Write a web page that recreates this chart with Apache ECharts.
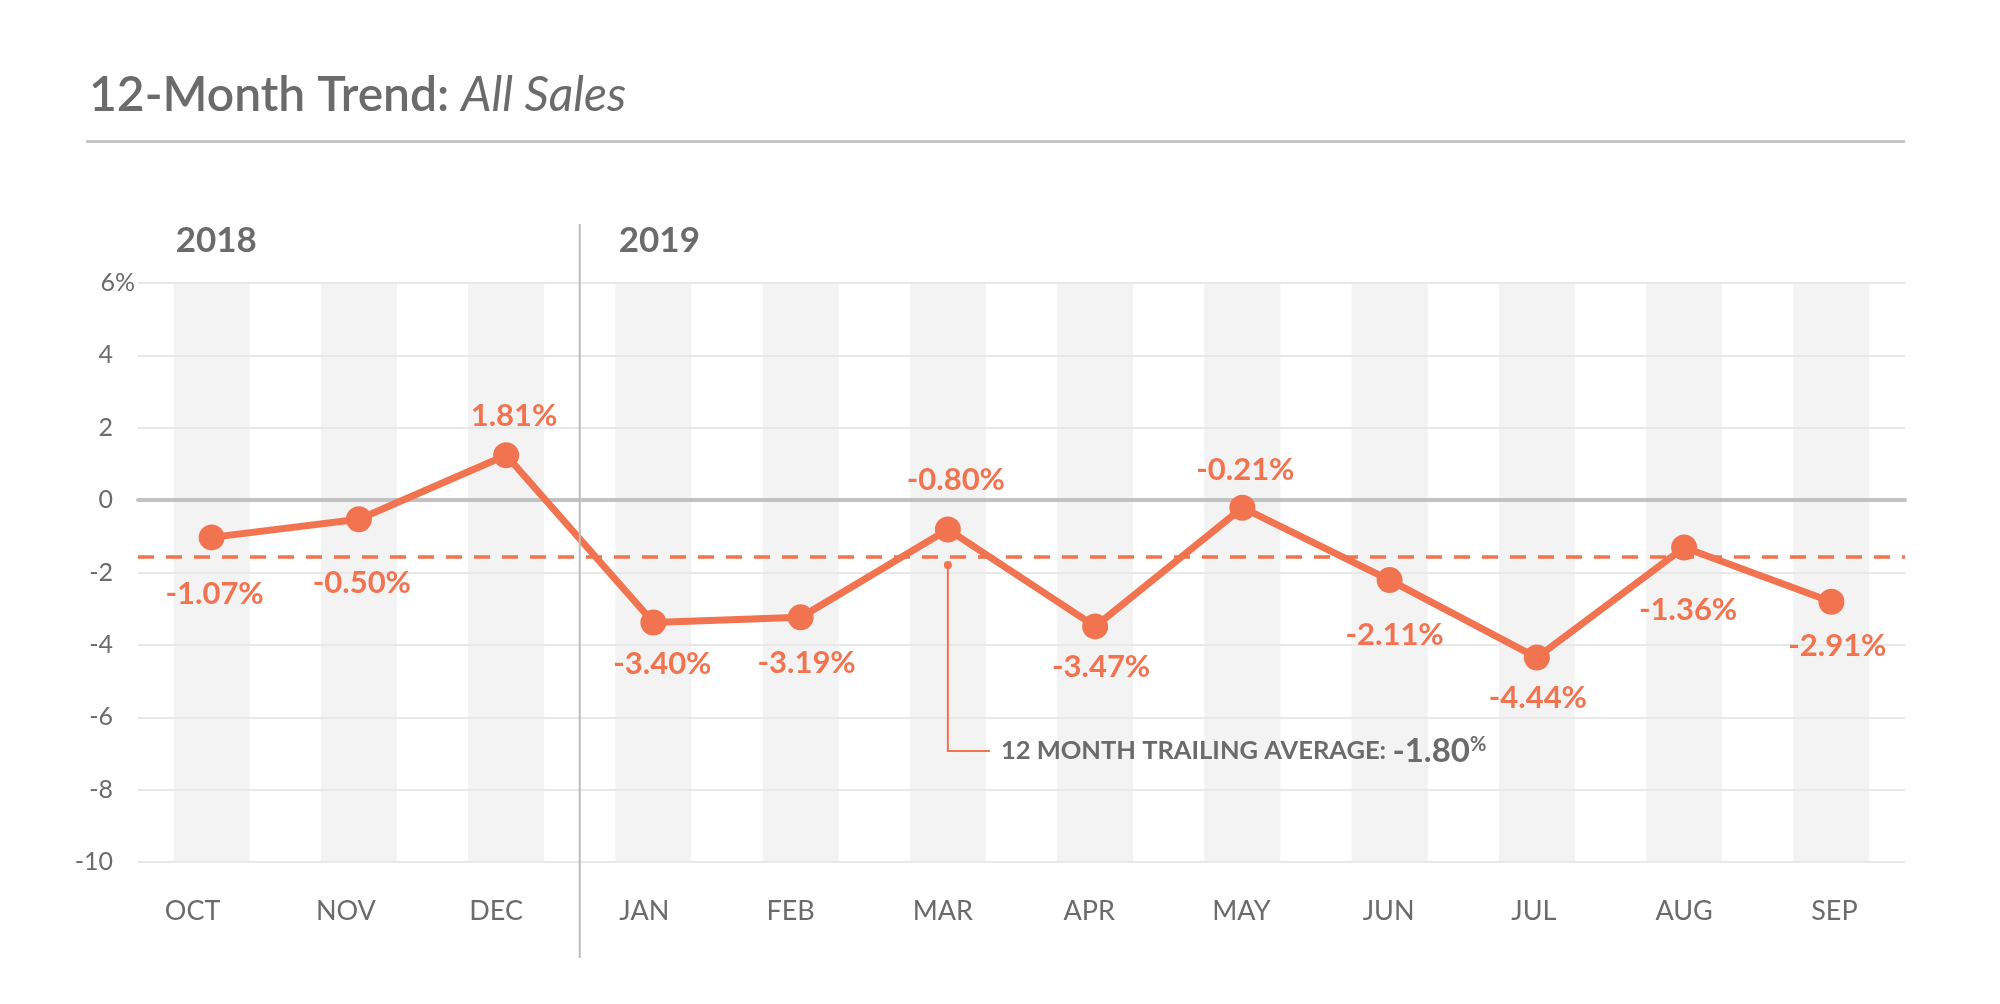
<!DOCTYPE html>
<html>
<head>
<meta charset="utf-8">
<script src="https://cdn.jsdelivr.net/npm/echarts@6/dist/echarts.min.js"></script>
<style>
html,body{margin:0;padding:0;background:#fff;}
#chart{width:2000px;height:1004px;}
</style>
</head>
<body>
<div id="chart"></div>
<script>
// ---------- data ----------
const months = ['OCT','NOV','DEC','JAN','FEB','MAR','APR','MAY','JUN','JUL','AUG','SEP'];
const values = [-1.03, -0.53, 1.24, -3.38, -3.24, -0.81, -3.49, -0.21, -2.21, -4.35, -1.31, -2.81];
const valueLabels = ['-1.07%','-0.50%','1.81%','-3.40%','-3.19%','-0.80%','-3.47%','-0.21%','-2.11%','-4.44%','-1.36%','-2.91%'];
const trailingAverage = -1.57;
const trailingAverageLabel = '-1.80';
const years = ['2018', '2019'];
const yMin = -10, yMax = 6, yStep = 2;

// ---------- styling / layout ----------
const ORANGE = '#F1734F';
const GRAY_TEXT = '#6b6b6b';
const FONT = 'Lato, "Open Sans", sans-serif';
// label offsets [dx, dy] per point
const labelOffsets = [[3,57],[3,64],[8,-39],[9,42],[6,46],[8,-49],[6,41],[3,-38],[5,55],[1,40],[4,62],[6,44]];
// horizontal shift of each month label (px, negative = left)
const monthShift = [-19,-13,-10,-9,-10,-5,-6,-1,-1,-3,0,3];

const monthRich = {};
monthShift.forEach((s, i) => {
  monthRich['m' + i] = {
    color: GRAY_TEXT, fontFamily: FONT, fontSize: 27,
    padding: s < 0 ? [0, -2 * s, 0, 0] : [0, 0, 0, 2 * s]
  };
});

// width of the '%' glyph used on the top y label
const mctx = document.createElement('canvas').getContext('2d');
mctx.font = '25px ' + FONT;
const pctW = Math.ceil(mctx.measureText('%').width) + 1;

const chart = echarts.init(document.getElementById('chart'), null, {renderer:'canvas'});

const lineData = values.map((v, i) => ({
  value: v,
  label: { formatter: valueLabels[i], offset: labelOffsets[i] }
}));

const option = {
  animation: false,
  backgroundColor: '#fff',
  title: {
    text: '{a|12-Month Trend: }{b|All Sales}',
    left: 84, top: 67,
    textStyle: {
      rich: {
        a: { fontFamily: FONT, fontSize: 48, fontWeight: 600, color: GRAY_TEXT },
        b: { fontFamily: FONT, fontSize: 48, fontWeight: 'normal', fontStyle: 'italic', color: GRAY_TEXT }
      }
    }
  },
  grid: { left: 138, right: 95, top: 283, bottom: 142, containLabel: false },
  xAxis: {
    type: 'category',
    data: months,
    boundaryGap: true,
    axisLine: { show: true, lineStyle: { color: '#c2c2c2', width: 4 } },
    axisTick: { show: false },
    axisLabel: {
      interval: 0,
      hideOverlap: false,
      color: GRAY_TEXT, fontFamily: FONT, fontSize: 27, margin: 36,
      formatter: (v, i) => '{m' + i + '|' + v + '}',
      rich: monthRich
    },
    splitLine: { show: false },
    z: 3
  },
  yAxis: [{
    type: 'value',
    min: yMin, max: yMax, interval: yStep,
    axisLine: { show: false },
    axisTick: { show: false },
    axisLabel: {
      color: GRAY_TEXT, fontFamily: FONT, fontSize: 25, margin: 3,
      formatter: v => v === yMax ? '{n|' + v + '}{p|%}' : '{n|' + v + '}{s| }',
      rich: {
        n: { color: GRAY_TEXT, fontFamily: FONT, fontSize: 25 },
        p: { color: GRAY_TEXT, fontFamily: FONT, fontSize: 25 },
        s: { color: GRAY_TEXT, fontFamily: FONT, fontSize: 25, width: pctW }
      }
    },
    splitLine: { show: true, lineStyle: { color: '#e8e8e8', width: 2 } },
    z: 3
  }, {
    type: 'value', min: 0, max: 1, show: false,
    splitLine: { show: false }
  }],
  series: [
    {
      type: 'bar',
      yAxisIndex: 1,
      data: months.map(() => 1),
      barWidth: 76,
      itemStyle: { color: '#f3f3f3' },
      silent: true,
      z: 1
    },
    {
      type: 'line',
      data: [],
      z: 4,
      silent: true,
      markLine: {
        silent: true,
        symbol: 'none',
        label: { show: false },
        data: [
          { yAxis: 0, lineStyle: { color: '#c2c2c2', width: 3, type: 'solid' } },
          { yAxis: trailingAverage, lineStyle: { color: ORANGE, width: 3.5, type: [16, 12] } }
        ]
      }
    },
    {
      type: 'line',
      data: lineData,
      z: 6,
      symbol: 'circle',
      symbolSize: 26,
      lineStyle: { color: ORANGE, width: 7 },
      itemStyle: { color: ORANGE },
      label: {
        show: true,
        position: 'inside',
        color: ORANGE,
        fontFamily: FONT,
        fontSize: 31,
        fontWeight: 'bold'
      }
    }
  ]
};
chart.setOption(option);

// ---------- decorations positioned from the axes ----------
const pDec = chart.convertToPixel({ gridIndex: 0 }, [2, 0]);
const pJan = chart.convertToPixel({ gridIndex: 0 }, [3, 0]);
const dividerX = (pDec[0] + pJan[0]) / 2;
const pMarAvg = chart.convertToPixel({ gridIndex: 0 }, [5, trailingAverage]);
const pOct = chart.convertToPixel({ gridIndex: 0 }, [0, 0]);
const calloutY = 751;

chart.setOption({
  graphic: [
    { type: 'line', shape: { x1: 86, y1: 141.5, x2: 1905, y2: 141.5 }, style: { stroke: '#c6c6c6', lineWidth: 3 }, silent: true },
    { type: 'line', shape: { x1: dividerX, y1: 224, x2: dividerX, y2: 958 }, style: { stroke: '#bdbdbd', lineWidth: 2 }, silent: true, z: 10 },
    { type: 'text', x: pOct[0] - 36, y: 241, style: { text: years[0], font: 'bold 35px ' + FONT, fill: GRAY_TEXT, textVerticalAlign: 'middle' }, silent: true },
    { type: 'text', x: dividerX + 39, y: 241, style: { text: years[1], font: 'bold 35px ' + FONT, fill: GRAY_TEXT, textVerticalAlign: 'middle' }, silent: true },
    { type: 'circle', shape: { cx: pMarAvg[0], cy: pMarAvg[1] + 8, r: 4 }, style: { fill: ORANGE }, silent: true, z: 10 },
    { type: 'polyline', shape: { points: [[pMarAvg[0], pMarAvg[1] + 8], [pMarAvg[0], calloutY], [pMarAvg[0] + 42, calloutY]] }, style: { stroke: ORANGE, lineWidth: 2, fill: null }, silent: true, z: 10 },
    { type: 'text', x: pMarAvg[0] + 53, y: calloutY, z: 10, silent: true,
      style: {
        text: '{a|12 MONTH TRAILING AVERAGE: }{b|' + trailingAverageLabel + '}{c|%}',
        textVerticalAlign: 'middle',
        rich: {
          a: { fontFamily: FONT, fontSize: 25.5, fontWeight: 'bold', fill: GRAY_TEXT, verticalAlign: 'middle' },
          b: { fontFamily: FONT, fontSize: 33, fontWeight: 'bold', fill: GRAY_TEXT, verticalAlign: 'middle' },
          c: { fontFamily: FONT, fontSize: 20, fontWeight: 'bold', fill: GRAY_TEXT, verticalAlign: 'top', padding: [0, 0, 10, 0] }
        }
      }
    }
  ]
});
</script>
</body>
</html>
